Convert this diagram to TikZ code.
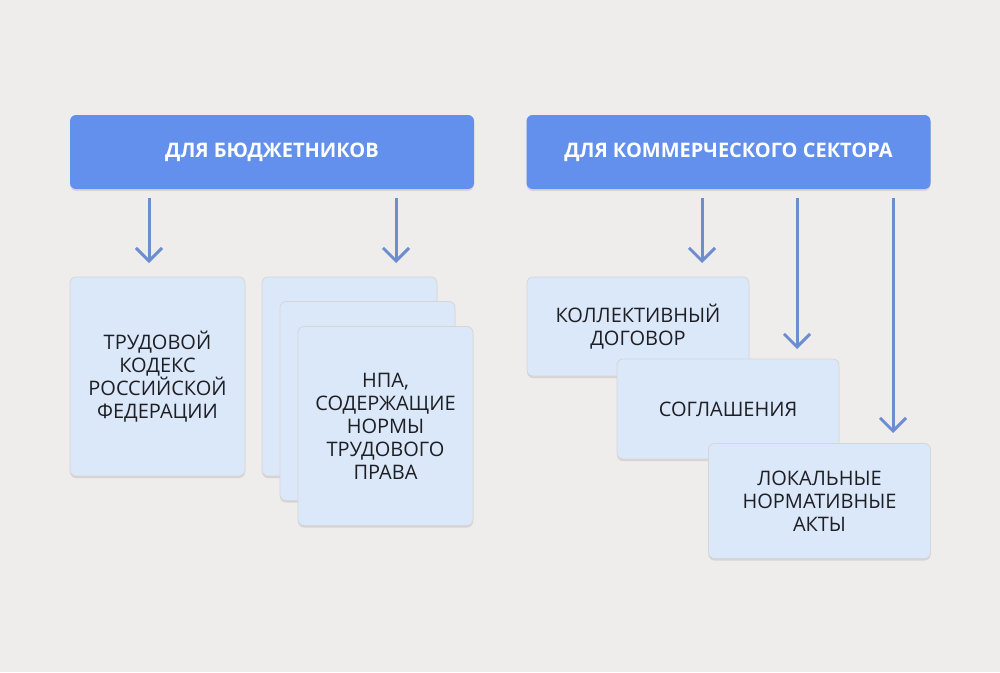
\documentclass[tikz,border=0pt]{standalone}
\usepackage{fontspec}
\setmainfont{Open Sans}
\usetikzlibrary{arrows.meta,shadows}

\definecolor{fundo}{HTML}{EFEDEB}
\definecolor{azul}{HTML}{6390ED}
\definecolor{caixa}{HTML}{DBE8F9}
\definecolor{seta}{HTML}{6D8DD1}
\definecolor{texto}{HTML}{1E1F24}

\tikzset{
  hdr/.style={fill=azul, rounded corners=6pt, inner sep=0pt, outer sep=0pt,
    text=white, font=\bfseries\fontsize{20}{24}\selectfont,
    minimum width=404pt, minimum height=74pt,
    drop shadow={shadow xshift=0pt, shadow yshift=-2pt, opacity=0.2, fill=black!50}},
  card/.style={fill=caixa, draw=black!16, line width=0.8pt, rounded corners=6pt,
    inner sep=0pt, outer sep=0pt,
    text=texto, align=center, font=\fontsize{20}{23}\selectfont,
    drop shadow={shadow xshift=0pt, shadow yshift=-2pt, opacity=0.25, fill=black!45}},
  arr/.style={draw=seta, line width=3pt, -{Straight Barb[length=13pt,width=26pt]}}
}

\begin{document}
\begin{tikzpicture}[x=1pt, y=-1pt]

% Фон
\fill[fundo] (0,0) rectangle (1000,672);
\useasboundingbox (0,0) rectangle (1000,672);

% Заголовки
\node[hdr] (h1) at (272,152) {ДЛЯ БЮДЖЕТНИКОВ};
\node[hdr] (h2) at (728.5,152) {ДЛЯ КОММЕРЧЕСКОГО СЕКТОРА};

% Левая часть
\node[card, minimum width=175pt, minimum height=199pt] (tk) at (157.5,376.5)
  {ТРУДОВОЙ\\КОДЕКС\\РОССИЙСКОЙ\\ФЕДЕРАЦИИ};
\node[card, minimum width=175pt, minimum height=199pt] (npa3) at (349.5,376.5) {};
\node[card, minimum width=175pt, minimum height=199pt] (npa2) at (367.5,401) {};
\node[card, minimum width=175pt, minimum height=199pt] (npa) at (385.5,426)
  {НПА,\\СОДЕРЖАЩИЕ\\НОРМЫ\\ТРУДОВОГО\\ПРАВА};

% Правая часть
\node[card, minimum width=222pt, minimum height=99pt] (kd) at (638,326.5)
  {КОЛЛЕКТИВНЫЙ\\ДОГОВОР};
\node[card, minimum width=222pt, minimum height=100pt] (sg) at (728,409)
  {СОГЛАШЕНИЯ};
\node[card, minimum width=222pt, minimum height=115pt] (lna) at (819.5,501)
  {ЛОКАЛЬНЫЕ\\НОРМАТИВНЫЕ\\АКТЫ};

% Точки начала и конца стрелок
\coordinate (s1) at (149,198);
\coordinate (s2) at (396,198);
\coordinate (s3) at (702,198);
\coordinate (s4) at (797,198);
\coordinate (s5) at (893,198);
\coordinate (e1) at (149,263);
\coordinate (e2) at (396,263);
\coordinate (e3) at (702,263);
\coordinate (e4) at (797,349);
\coordinate (e5) at (893,433);

% Стрелки
\foreach \i in {1,...,5}
  \draw[arr] (s\i) -- (e\i);

\end{tikzpicture}
\end{document}
